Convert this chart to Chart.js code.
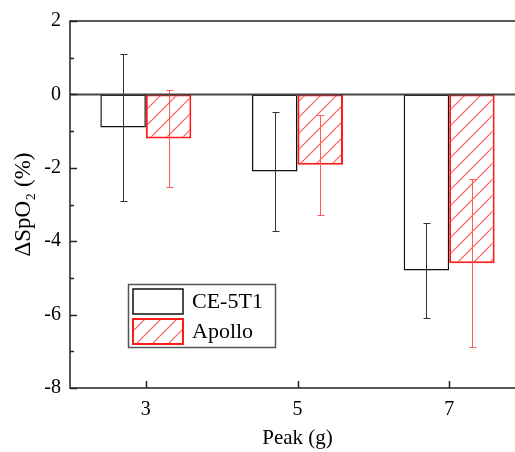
<!DOCTYPE html>
<html>
<head>
<meta charset="utf-8">
<script src="https://cdn.jsdelivr.net/npm/chart.js@4.4.0/dist/chart.umd.min.js"></script>
<style>
html, body { margin: 0; padding: 0; background: #fff; overflow: hidden; }
#wrap { width: 530px; height: 452px; }
</style>
</head>
<body>
<div id="wrap"><canvas id="c" width="530" height="452"></canvas></div>
<script>
// data
const peaks = ['3', '5', '7'];
const ce5t1 = [-0.9, -2.1, -4.8];
const ce5t1Err = [2.0, 1.62, 1.3];
const apollo = [-1.2, -1.92, -4.6];
const apolloErr = [1.33, 1.37, 2.29];

const FONT = "'Liberation Serif', 'Times New Roman', serif";

function hatch(color) {
  const s = 16;
  const c = document.createElement('canvas');
  c.width = s; c.height = s;
  const g = c.getContext('2d');
  g.fillStyle = '#fff';
  g.fillRect(0, 0, s, s);
  g.strokeStyle = color;
  g.lineWidth = 1.1;
  g.beginPath();
  g.moveTo(0, s); g.lineTo(s, 0);
  g.moveTo(-2, 2); g.lineTo(2, -2);
  g.moveTo(s - 2, s + 2); g.lineTo(s + 2, s - 2);
  g.stroke();
  return document.getElementById('c').getContext('2d').createPattern(c, 'repeat');
}
const redHatch = hatch('#ff5555');

// error bars from the errors arrays
const errorBars = {
  id: 'errorBars',
  afterDatasetsDraw(chart) {
    const ctx = chart.ctx, y = chart.scales.y;
    chart.data.datasets.forEach((ds, i) => {
      chart.getDatasetMeta(i).data.forEach((bar, j) => {
        const v = ds.data[j], e = ds.errors[j];
        const x = Math.round(bar.x) + 0.5;
        const t = Math.round(y.getPixelForValue(v + e)) + 0.5;
        const b = Math.round(y.getPixelForValue(v - e)) + 0.5;
        ctx.save();
        ctx.strokeStyle = ds.errorColor;
        ctx.lineWidth = 1;
        ctx.beginPath();
        ctx.moveTo(x, t); ctx.lineTo(x, b);
        ctx.moveTo(x - 3, t); ctx.lineTo(x + 4, t);
        ctx.moveTo(x - 3, b); ctx.lineTo(x + 4, b);
        ctx.stroke();
        ctx.restore();
      });
    });
  }
};

// frame, zero line, inward ticks, legend
const frame = {
  id: 'frame',
  afterDraw(chart) {
    const ctx = chart.ctx, a = chart.chartArea;
    const x = chart.scales.x, y = chart.scales.y;
    ctx.save();
    ctx.strokeStyle = '#222';
    ctx.lineWidth = 1.5;
    ctx.strokeRect(a.left, a.top, a.right - a.left, a.bottom - a.top);
    // zero line
    const z = y.getPixelForValue(0);
    ctx.strokeStyle = '#444';
    ctx.lineWidth = 2;
    ctx.beginPath(); ctx.moveTo(a.left, z); ctx.lineTo(a.right, z); ctx.stroke();
    // y ticks inward
    ctx.strokeStyle = '#222';
    ctx.lineWidth = 1.5;
    ctx.beginPath();
    for (let v = y.min; v <= y.max; v += 1) {
      const py = Math.round(y.getPixelForValue(v)) + 0.5;
      const len = (v % 2 === 0) ? 7 : 4;
      ctx.moveTo(a.left, py); ctx.lineTo(a.left + len, py);
    }
    peaks.forEach((p, i) => {
      const px = Math.round(x.getPixelForValue(i)) + 0.5;
      ctx.moveTo(px, a.bottom); ctx.lineTo(px, a.bottom - 7);
    });
    ctx.stroke();

    // legend
    const lx = 128, ly = 284, lw = 147, lh = 63;
    ctx.fillStyle = '#fff';
    ctx.fillRect(lx, ly, lw, lh);
    ctx.strokeStyle = '#555';
    ctx.lineWidth = 1.5;
    ctx.strokeRect(lx + 0.5, ly + 0.5, lw, lh);
    ctx.font = '22px ' + FONT;
    ctx.textBaseline = 'middle';
    chart.data.datasets.forEach((ds, i) => {
      const sy = ly + 5 + i * 30;
      ctx.fillStyle = ds.backgroundColor;
      ctx.fillRect(lx + 5, sy, 50, 25);
      ctx.strokeStyle = ds.borderColor;
      ctx.lineWidth = ds.borderWidth;
      ctx.strokeRect(lx + 5, sy, 50, 25);
      ctx.fillStyle = '#000';
      ctx.fillText(ds.label, lx + 64, sy + 13);
    });
    ctx.restore();
  }
};

new Chart(document.getElementById('c'), {
  type: 'bar',
  data: {
    labels: peaks,
    datasets: [
      {
        label: 'CE-5T1',
        data: ce5t1,
        errors: ce5t1Err,
        errorColor: '#333',
        backgroundColor: '#fff',
        borderColor: '#111',
        borderWidth: 1.5,
        borderSkipped: false
      },
      {
        label: 'Apollo',
        data: apollo,
        errors: apolloErr,
        errorColor: '#ff5a5a',
        backgroundColor: redHatch,
        borderColor: '#ff1a1a',
        borderWidth: 2,
        borderSkipped: false
      }
    ]
  },
  options: {
    responsive: false,
    animation: false,
    devicePixelRatio: 1,
    layout: { padding: { top: 20, right: 5, left: 0, bottom: 0 } },
    categoryPercentage: 0.6,
    barPercentage: 1.0,
    plugins: { legend: { display: false }, tooltip: { enabled: false } },
    scales: {
      x: {
        grid: { display: false, drawTicks: false },
        border: { display: false },
        ticks: { color: '#000', font: { family: FONT, size: 20 }, padding: 10 },
        title: { display: true, text: 'Peak (g)', color: '#000', font: { family: FONT, size: 21 }, padding: { top: 2, bottom: 1 } },
        afterFit: s => { s.height = 64; }
      },
      y: {
        min: -8,
        max: 2,
        grid: { display: false, drawTicks: false },
        border: { display: false },
        ticks: { stepSize: 2, color: '#000', font: { family: FONT, size: 20 }, padding: 9 },
        title: { display: true, text: 'ΔSpO₂ (%)', color: '#000', font: { family: FONT, size: 23 }, padding: { top: 10, bottom: 0 } },
        afterFit: s => { s.width = 70; }
      }
    }
  },
  plugins: [errorBars, frame]
});
</script>
</body>
</html>
